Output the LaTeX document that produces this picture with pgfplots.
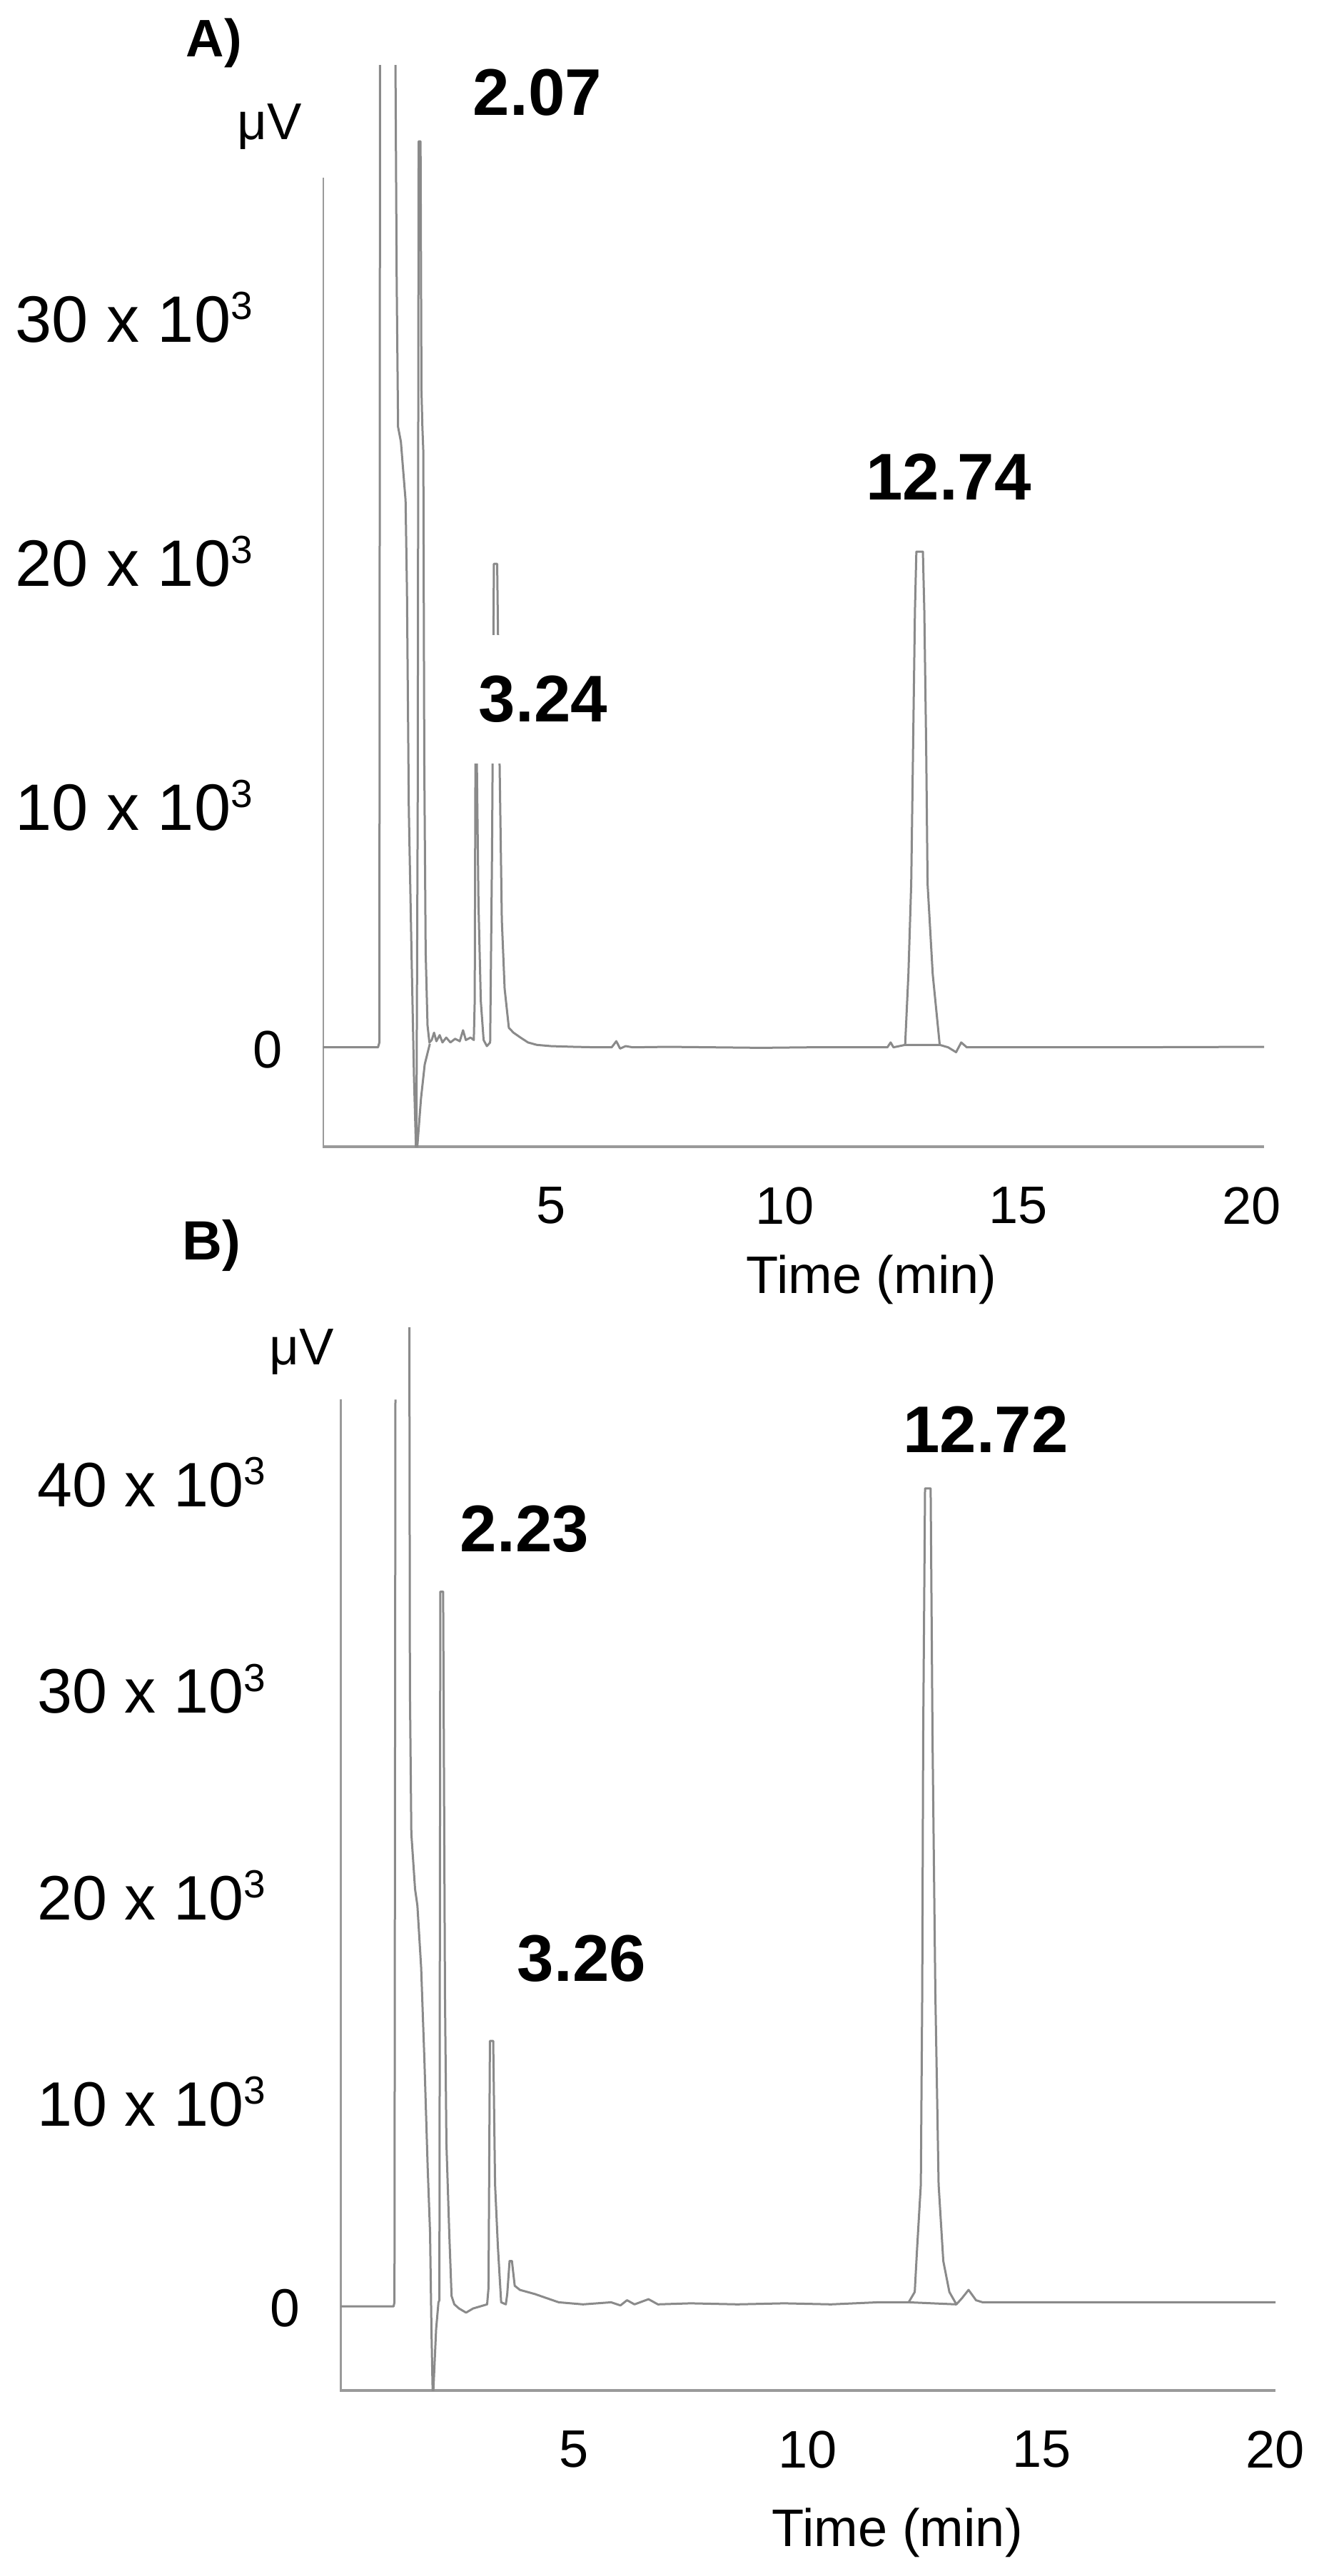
\documentclass[border=0pt]{standalone}
\usepackage{fontspec}
\setmainfont{Liberation Sans}
\usepackage{pgfplots}
\pgfplotsset{compat=1.18}
\definecolor{trace}{HTML}{8A8A8A}
\definecolor{axisgray}{HTML}{9A9A9A}
\newcommand{\supx}[1]{\raisebox{0.35em}{\fontsize{11}{12}\selectfont #1}}
\begin{document}
\begin{tikzpicture}
\useasboundingbox (0pt,0pt) rectangle (371pt,-722pt);
% ---------------- Panel A ----------------
\begin{axis}[
  at={(90.4pt,-321.4pt)}, anchor=south west,
  scale only axis, width=263.8pt, height=303pt,
  xmin=0.115, xmax=20.26, ymin=-3.97, ymax=40.3,
  enlargelimits=false,
  axis x line*=bottom, axis y line*=left,
  x axis line style={draw=axisgray, line width=0.8pt},
  y axis line style={draw=none},
  major tick length=0pt,
  xtick={5,10,15,20}, xticklabels={5,10,15,20},
  ytick={0,10,20,30},
  yticklabels={{\fontsize{14.8}{16}\selectfont 0\kern-9.6pt},
               {10 x 10\supx{3}},{20 x 10\supx{3}},{30 x 10\supx{3}}},
  xticklabel style={font=\fontsize{14.8}{16}\selectfont, anchor=north, inner sep=0pt, yshift=-11.2pt},
  yticklabel style={font=\fontsize{18.4}{20}\selectfont, anchor=east, inner sep=0pt, xshift=-19.4pt},
  xlabel={Time (min)},
  xlabel style={at={(axis description cs:0.583,-0.1228)}, anchor=center, inner sep=0pt, font=\fontsize{14.8}{16}\selectfont},
  unbounded coords=jump,
]
\draw[axisgray, line width=0.8pt] (axis cs:0.115,-3.97) -- (axis cs:0.115,35.7);
\addplot[trace, line width=0.6pt, line join=round] coordinates {
(0.12,0.1) (1.30,0.1) (1.33,0.3) (1.345,45) (1.66,45)
(1.70,31.5) (1.73,25.5) (1.79,24.9) (1.89,22.5) (1.92,18.8) (1.96,9.8) (2.02,3.7) (2.07,-1.1) (2.12,-4.5)
(2.15,10) (2.17,37.2) (2.21,37.2) (2.23,27) (2.25,25.5) (2.27,24.5) (2.29,12) (2.32,4) (2.36,1) (2.40,0.3)
(2.45,0.4) (2.50,0.7) (2.55,0.35) (2.62,0.6) (2.68,0.3) (2.76,0.5) (2.85,0.3) (2.95,0.45) (3.05,0.35) (3.12,0.8) (3.18,0.4) (3.28,0.5) (3.35,0.4)
(3.37,2) (3.385,11.8) (3.415,11.8) (3.45,6) (3.50,2) (3.56,0.4) (3.63,0.15)
(3.70,0.3) (3.74,8) (3.78,19.9) (3.85,19.9) (3.90,12) (3.95,5.3) (4.01,2.5) (4.10,0.9) (4.20,0.7) (4.35,0.5) (4.51,0.3) (4.7,0.2) (5.0,0.15)
(5.5,0.12) (6.0,0.1) (6.30,0.1) (6.40,0.35) (6.48,0.05) (6.60,0.15) (6.75,0.1) (7.5,0.12) (8.5,0.1) (9.5,0.08) (10.5,0.1) (11.5,0.1)
(12.2,0.1) (12.27,0.3) (12.33,0.1) (12.58,0.2)
(12.65,3.1) (12.71,6.8) (12.75,12.4) (12.79,18.0) (12.82,20.4) (12.96,20.4) (12.99,18.0) (13.03,12.4) (13.06,6.8) (13.17,3.1) (13.32,0.2)
(13.50,0.1) (13.67,-0.1) (13.78,0.3) (13.9,0.1) (15,0.1) (17,0.1) (20.26,0.12)
};
\addplot[trace, line width=0.6pt, line join=round] coordinates {
(2.12,-4.5) (2.22,-2.0) (2.30,-0.6) (2.41,0.25) (2.5,nan) (12.58,0.2) (13.32,0.2)
};
\end{axis}
% ---------------- Panel B ----------------
\begin{axis}[
  at={(95.2pt,-670pt)}, anchor=south west,
  scale only axis, width=262.2pt, height=298pt,
  xmin=0, xmax=20.0, ymin=-3.97, ymax=47.5,
  enlargelimits=false,
  axis x line*=bottom, axis y line*=left,
  x axis line style={draw=axisgray, line width=0.8pt},
  y axis line style={draw=none},
  major tick length=0pt,
  xtick={5,10,15,20}, xticklabels={5,10,15,20},
  ytick={0,10,20,30,40},
  yticklabels={{\fontsize{15}{16}\selectfont 0\kern-12pt},
               {10 x 10\supx{3}},{20 x 10\supx{3}},{30 x 10\supx{3}},{40 x 10\supx{3}}},
  xticklabel style={font=\fontsize{14.8}{16}\selectfont, anchor=north, inner sep=0pt, yshift=-11.2pt},
  yticklabel style={font=\fontsize{17.6}{19}\selectfont, anchor=east, inner sep=0pt, xshift=-20.6pt},
  xlabel={Time (min)},
  xlabel style={at={(axis description cs:0.596,-0.134)}, anchor=center, inner sep=0pt, font=\fontsize{14.8}{16}\selectfont},
  unbounded coords=jump,
]
\draw[axisgray, line width=0.8pt] (axis cs:0.02,-3.97) -- (axis cs:0.02,44.0);
\addplot[trace, line width=0.6pt, line join=round] coordinates {
(0.02,0.1) (1.15,0.1) (1.17,0.3) (1.19,44.0) (1.20,nan)
(1.48,60) (1.50,30) (1.53,23) (1.61,20.3) (1.66,19.5) (1.74,16.5) (1.81,12) (1.88,6.8) (1.93,3.7) (1.96,-1) (1.99,-4.5)
(2.06,-1) (2.11,0.3) (2.13,0.4) (2.15,34.7) (2.21,34.7) (2.25,15) (2.28,8) (2.34,3.7) (2.39,0.6) (2.45,0.2)
(2.55,0.0) (2.70,-0.2) (2.85,0.0) (3.00,0.1) (3.15,0.2)
(3.18,1) (3.21,12.95) (3.28,12.95) (3.32,6) (3.38,3) (3.45,0.3) (3.55,0.2)
(3.58,0.7) (3.63,2.3) (3.68,2.3) (3.74,1.1) (3.85,0.9) (4.17,0.7) (4.68,0.3)
(5.2,0.2) (5.8,0.3) (6.0,0.15) (6.14,0.4) (6.3,0.2) (6.6,0.45) (6.8,0.2) (7.5,0.25) (8.5,0.2) (9.5,0.25) (10.5,0.2) (11.5,0.3)
(12.16,0.3) (12.29,0.8) (12.34,2.9) (12.42,6.0) (12.45,15.3) (12.47,27.6) (12.51,39.7) (12.63,39.7) (12.67,27.6) (12.73,15.3) (12.80,6.0) (12.90,2.3) (13.03,0.8) (13.18,0.2)
(13.30,0.5) (13.44,0.9) (13.60,0.4) (13.74,0.3) (15,0.3) (17,0.3) (20.0,0.3)
};
\addplot[trace, line width=0.6pt, line join=round] coordinates {
(12.16,0.3) (13.18,0.2)
};
\end{axis}
% ---------------- Labels ----------------
\node[font=\bfseries\fontsize{14.8}{16}\selectfont] at (60pt,-12pt) {A)};
\node[font=\fontsize{14.5}{16}\selectfont] at (75.6pt,-35.6pt) {μV};
\node[font=\bfseries\fontsize{18.5}{20}\selectfont] at (150.6pt,-26pt) {2.07};
\node[font=\bfseries\fontsize{18.5}{20}\selectfont, fill=white, inner xsep=2pt, inner ysep=11.5pt] at (152.2pt,-196pt) {3.24};
\node[font=\bfseries\fontsize{18.5}{20}\selectfont] at (265.8pt,-133.6pt) {12.74};
\node[font=\bfseries\fontsize{15.5}{17}\selectfont] at (59.2pt,-349pt) {B)};
\node[font=\fontsize{14.5}{16}\selectfont] at (84.6pt,-378.8pt) {μV};
\node[font=\bfseries\fontsize{18.5}{20}\selectfont] at (147pt,-428.6pt) {2.23};
\node[font=\bfseries\fontsize{18.5}{20}\selectfont] at (163pt,-549pt) {3.26};
\node[font=\bfseries\fontsize{18.5}{20}\selectfont] at (276.2pt,-400.6pt) {12.72};
\end{tikzpicture}
\end{document}
